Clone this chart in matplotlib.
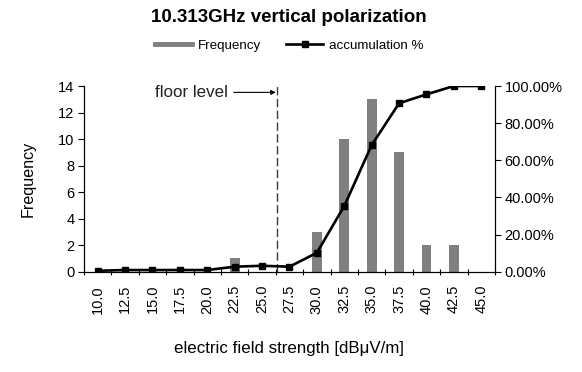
import matplotlib
matplotlib.use("Agg")
import matplotlib.pyplot as plt
from matplotlib.lines import Line2D
import numpy as np

plt.rcParams['font.family'] = ['Liberation Sans', 'DejaVu Sans']

categories = ["10.0", "12.5", "15.0", "17.5", "20.0", "22.5", "25.0", "27.5",
              "30.0", "32.5", "35.0", "37.5", "40.0", "42.5", "45.0"]
frequency = [0, 0, 0, 0, 0, 1, 0, 0, 3, 10, 13, 9, 2, 2, 0]
accumulation = [0.5, 0.9, 0.9, 0.9, 0.9, 2.7, 3.2, 2.7, 10.2, 35.4, 68.2, 90.7, 95.5, 100.0, 100.0]
freq_ticks = [0, 2, 4, 6, 8, 10, 12, 14]
pct_ticks = [0, 20, 40, 60, 80, 100]
floor_pos = 6.55

fig = plt.figure(figsize=(5.82, 3.72), dpi=100)
ax = fig.add_axes([0.1443, 0.2696, 0.8505 - 0.1443, 0.7688 - 0.2696])
x = np.arange(len(categories))

ax.bar(x, frequency, width=0.36, color='#808080', zorder=2)
ax.set_xlim(-0.5, len(categories) - 0.5)
ax.set_ylim(0, 14)
ax.set_yticks(freq_ticks)
ax.set_xticks(x)
ax.set_xticklabels(categories, rotation=90, fontsize=10.5)
ax.tick_params(axis='x', which='major', length=0, pad=9.5)
ax.set_xticks(np.arange(-0.5, len(categories)), minor=True)
ax.tick_params(axis='x', which='minor', length=5, direction='inout', width=0.8)
ax.tick_params(axis='y', labelsize=10.5, length=4, width=0.8, pad=3)
ax.spines['top'].set_visible(False)
for s in ax.spines.values():
    s.set_linewidth(0.8)
ax.set_ylabel("Frequency", fontsize=11.6, labelpad=16)
ax.set_xlabel("electric field strength [dBμV/m]", fontsize=12.2, labelpad=20)

ax.axvline(floor_pos, color='#3a3a3a', linestyle=(0, (6, 2.5)), linewidth=1.0, zorder=1)
ax.annotate("floor level", xy=(floor_pos - 0.05, 13.52), xytext=(2.1, 13.52),
            fontsize=12.2, va='center', ha='left', color='#222222',
            arrowprops=dict(arrowstyle='-|>', color='black', lw=0.8,
                            shrinkA=2, shrinkB=0, mutation_scale=7))

ax2 = ax.twinx()
ax2.plot(x, accumulation, color='black', linewidth=1.9, marker='s', markersize=4.3, zorder=3)
ax2.set_ylim(0, 100)
ax2.set_yticks(pct_ticks)
ax2.set_yticklabels([f"{v:.2f}%" for v in pct_ticks])
ax2.tick_params(axis='y', labelsize=10.5, length=4, width=0.8, pad=3)
ax2.spines['top'].set_visible(False)
for s in ax2.spines.values():
    s.set_linewidth(0.8)

fig.text(0.497, 0.953, "10.313GHz vertical polarization", fontsize=13.5, fontweight='bold',
         ha='center', va='center')

handles = [Line2D([0], [0], color='#808080', linewidth=3.5),
           Line2D([0], [0], color='black', linewidth=1.9, marker='s', markersize=4)]
fig.legend(handles, ["Frequency", "accumulation %"], loc='center', bbox_to_anchor=(0.497, 0.878),
           ncol=2, frameon=False, fontsize=9.6, handlelength=2.78, columnspacing=1.88,
           handletextpad=0.45)

fig.savefig("out.png", dpi=100)
